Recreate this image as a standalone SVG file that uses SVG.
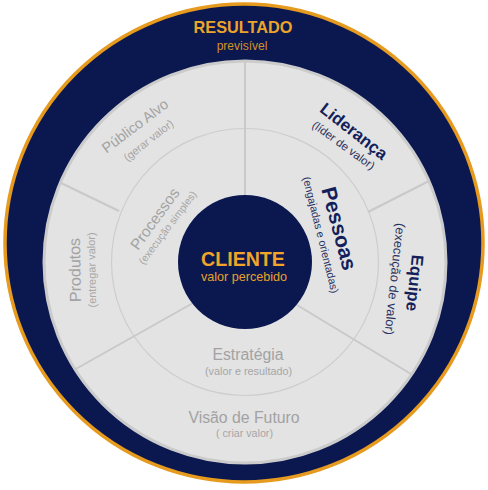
<svg xmlns="http://www.w3.org/2000/svg" width="488" height="490" viewBox="0 0 488 490">
<style>
text{font-family:"Liberation Sans",Arial,sans-serif;text-anchor:middle}
.gt{fill:#a2a2a2}
.gs{fill:#a6a6a6}
.nt{fill:#131f5a;font-weight:bold}
.ns{fill:#27315f}
.div{stroke:#c9c9c9;stroke-width:2;fill:none}
</style>
<rect width="488" height="490" fill="#ffffff"/>
<g id="resultado">
<circle cx="244" cy="243" r="239" fill="#0b1850" stroke="#e69a1e" stroke-width="3.5"/>
<text x="243" y="33" font-size="16.3" font-weight="bold" fill="#eba42a">RESULTADO</text>
<text x="242" y="50" font-size="12" fill="#d39324">previsível</text>
</g>
<g id="base">
<circle cx="245" cy="262" r="201" fill="#e3e3e3" stroke="#cbcbcb" stroke-width="3"/>
<circle cx="245" cy="262" r="133.5" fill="none" stroke="#cdcdcd" stroke-width="1.2"/>
</g>
<g id="connectors" class="div">
<line x1="245" y1="62" x2="245" y2="196"/>
<line x1="61" y1="183" x2="119" y2="211"/>
<line x1="429" y1="181" x2="368" y2="212"/>
<line x1="74" y1="370" x2="193" y2="303"/>
<line x1="297" y1="305" x2="411" y2="374"/>
</g>
<g id="cliente">
<circle cx="245" cy="262" r="67" fill="#0b1850"/>
<text x="243" y="266" font-size="19.6" font-weight="bold" fill="#f0a52a">CLIENTE</text>
<text x="244" y="281" font-size="12.6" fill="#e8a02a">valor percebido</text>
</g>
<g id="publico-alvo">
<text class="gt" font-size="14.5" transform="translate(135,126) rotate(-37)" y="5">Público Alvo</text>
<text class="gs" font-size="11" transform="translate(149,141) rotate(-38)" y="3">(gerar valor)</text>
</g>
<g id="produtos">
<text class="gt" font-size="16" transform="translate(75,270) rotate(-91)" y="5.5">Produtos</text>
<text class="gs" font-size="11" transform="translate(92.5,270) rotate(-91)" y="3">(entregar valor)</text>
</g>
<g id="processos">
<text class="gt" font-size="15.4" transform="translate(155,219) rotate(-54)" y="5">Processos</text>
<text class="gs" font-size="10.3" transform="translate(168,228) rotate(-53)" y="3">(execução simples)</text>
</g>
<g id="lideranca">
<text class="nt" font-size="17" transform="translate(354,131) rotate(38)" y="6">Liderança</text>
<text class="ns" font-size="11.5" transform="translate(343,146) rotate(36)" y="3">(líder de valor)</text>
</g>
<g id="pessoas">
<text class="nt" font-size="21" transform="translate(339.5,228.5) rotate(75)" y="7.5">Pessoas</text>
<text class="ns" font-size="10.8" transform="translate(320,235) rotate(76)" y="3">(engajadas e orientadas)</text>
</g>
<g id="equipe">
<text class="nt" font-size="17" transform="translate(415,283) rotate(96)" y="6">Equipe</text>
<text class="ns" font-size="12.8" transform="translate(394,279) rotate(96)" y="3.5">(execução de valor)</text>
</g>
<g id="estrategia">
<text class="gt" font-size="15.8" x="248" y="360">Estratégia</text>
<text class="gs" font-size="10.8" x="248.5" y="375">(valor e resultado)</text>
</g>
<g id="visao-de-futuro">
<text class="gt" font-size="15.8" x="244" y="423">Visão de Futuro</text>
<text class="gs" font-size="10.7" x="244.5" y="437">( criar valor)</text>
</g>
</svg>
